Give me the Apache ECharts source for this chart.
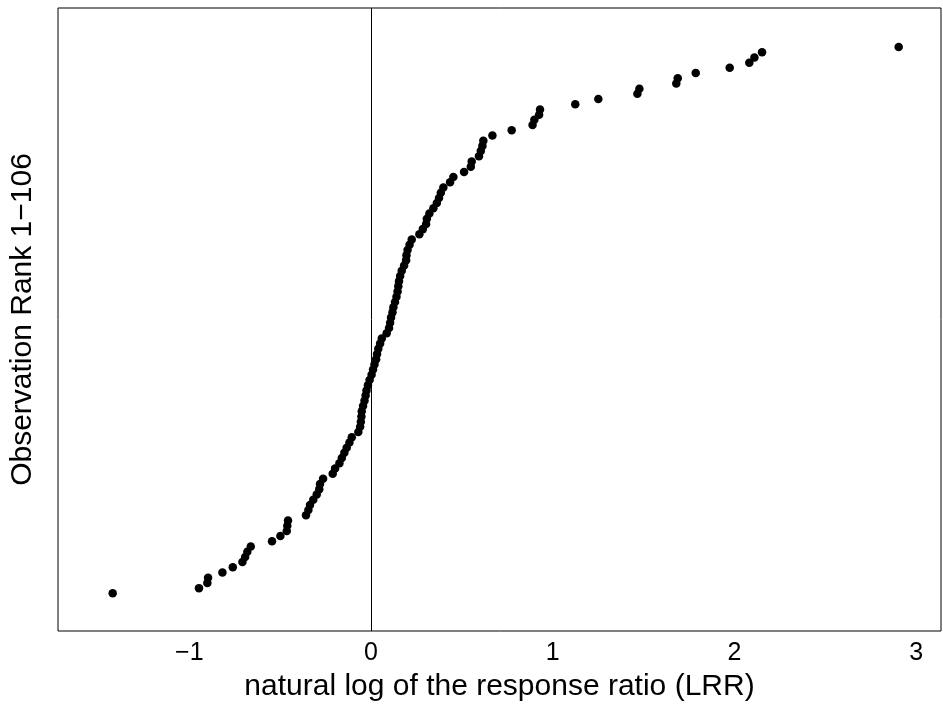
<!DOCTYPE html>
<html>
<head>
<meta charset="utf-8">
<script src="https://cdn.jsdelivr.net/npm/echarts@6/dist/echarts.min.js"></script>
<style>html,body{margin:0;padding:0;background:#fff}#c{width:943px;height:707px}</style>
</head>
<body>
<div id="c"></div>
<script>
// LRR values sorted, rank 1..106
const lrr = [
 -1.422,-0.947,-0.901,-0.897,-0.818,-0.761,-0.708,-0.693,-0.681,-0.662,
 -0.545,-0.499,-0.464,-0.461,-0.457,-0.358,-0.345,-0.336,-0.318,-0.299,
 -0.285,-0.281,-0.264,-0.211,-0.198,-0.174,-0.161,-0.147,-0.134,-0.119,
 -0.106,-0.070,-0.060,-0.056,-0.053,-0.051,-0.044,-0.036,-0.030,-0.025,
 -0.017,-0.008,0.003,0.011,0.019,0.028,0.033,0.040,0.050,0.059,
 0.086,0.099,0.105,0.110,0.118,0.123,0.132,0.140,0.146,0.150,
 0.154,0.160,0.169,0.182,0.193,0.195,0.201,0.212,0.224,0.266,
 0.285,0.303,0.307,0.321,0.343,0.362,0.374,0.384,0.398,0.435,
 0.453,0.512,0.549,0.554,0.594,0.604,0.613,0.618,0.668,0.774,
 0.889,0.899,0.925,0.930,1.124,1.251,1.466,1.477,1.680,1.688,
 1.787,1.974,2.082,2.110,2.152,2.904
];
const ranks = lrr.map((v, i) => i + 1);
const xTicks = [-1, 0, 1, 2, 3];
const xTickLabels = ['\u22121', '0', '1', '2', '3'];
const xTitle = 'natural log of the response ratio (LRR)';
const yTitle = 'Observation Rank 1\u2212106';

const font = '"Liberation Sans", Arial, Helvetica, sans-serif';
const chart = echarts.init(document.getElementById('c'));
chart.setOption({
  animation: false,
  backgroundColor: '#fff',
  grid: { left: 58, right: 2, top: 8, bottom: 71, show: true, borderColor: '#000', borderWidth: 1, backgroundColor: 'transparent' },
  xAxis: {
    type: 'value', min: -1.723, max: 3.137,
    splitLine: { show: false }, axisLine: { show: false }, axisTick: { show: false },
    axisLabel: {
      customValues: xTicks, margin: 10, color: '#000', fontFamily: font, fontSize: 25,
      formatter: v => xTickLabels[xTicks.indexOf(Math.round(v))]
    },
    name: xTitle, nameLocation: 'middle', nameGap: 41,
    nameTextStyle: { color: '#000', fontFamily: font, fontSize: 30 }
  },
  yAxis: {
    type: 'value', min: -6.24, max: 113.5,
    splitLine: { show: false }, axisLine: { show: false }, axisTick: { show: false },
    axisLabel: { show: false },
    name: yTitle, nameLocation: 'middle', nameGap: 20,
    nameTextStyle: { color: '#000', fontFamily: font, fontSize: 30 }
  },
  series: [{
    type: 'scatter',
    data: lrr.map((v, i) => [v, ranks[i]]),
    symbol: 'circle', symbolSize: 8.5,
    itemStyle: { color: '#000', opacity: 1 },
    markLine: {
      silent: true, symbol: 'none', label: { show: false },
      lineStyle: { color: '#000', width: 1, type: 'solid' },
      data: [{ xAxis: 0 }]
    }
  }]
});
</script>
</body>
</html>
